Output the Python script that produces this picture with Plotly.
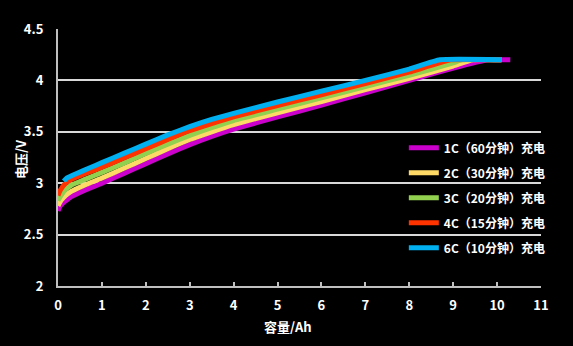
import plotly.graph_objects as go

# Capacity (Ah) and voltage (V) for each charge rate
names = ["1C（60分钟）充电", "2C（30分钟）充电", "3C（20分钟）充电", "4C（15分钟）充电", "6C（10分钟）充电"]
colors = ["#cc00cc", "#ffd966", "#92d050", "#ff3300", "#00b0f0"]

x_1c = [0, 0.05, 0.15, 0.3, 0.6, 1, 1.5, 2, 2.5, 3, 3.5, 4, 5, 6, 7, 8, 9, 9.8, 10.3]
v_1c = [2.73, 2.78, 2.82, 2.87, 2.93, 3.00, 3.095, 3.19, 3.285, 3.375, 3.455, 3.525, 3.645, 3.76, 3.88, 4.00, 4.12, 4.2, 4.2]

x_2c = [0, 0.05, 0.15, 0.3, 0.6, 1, 1.5, 2, 2.5, 3, 3.5, 4, 5, 6, 7, 8, 9, 9.45, 10.1]
v_2c = [2.78, 2.82, 2.87, 2.92, 2.98, 3.05, 3.145, 3.24, 3.335, 3.425, 3.50, 3.57, 3.685, 3.795, 3.91, 4.02, 4.14, 4.2, 4.2]

x_3c = [0, 0.05, 0.15, 0.3, 0.6, 1, 1.5, 2, 2.5, 3, 3.5, 4, 5, 6, 7, 8, 9, 9.2, 10.1]
v_3c = [2.83, 2.87, 2.93, 2.98, 3.035, 3.105, 3.195, 3.29, 3.38, 3.465, 3.54, 3.61, 3.72, 3.83, 3.94, 4.05, 4.17, 4.2, 4.2]

x_4c = [0, 0.05, 0.15, 0.3, 0.6, 1, 1.5, 2, 2.5, 3, 3.5, 4, 5, 6, 7, 8, 8.95, 10.1]
v_4c = [2.88, 2.93, 2.99, 3.035, 3.09, 3.155, 3.245, 3.335, 3.425, 3.51, 3.58, 3.645, 3.755, 3.86, 3.97, 4.08, 4.2, 4.2]

x_6c = [0.13, 0.2, 0.4, 0.7, 1, 1.5, 2, 2.5, 3, 3.5, 4, 5, 6, 7, 8, 8.7, 10.1]
v_6c = [3.02, 3.05, 3.09, 3.145, 3.20, 3.29, 3.38, 3.47, 3.55, 3.62, 3.68, 3.79, 3.895, 4.00, 4.11, 4.2, 4.2]

xs = [x_1c, x_2c, x_3c, x_4c, x_6c]
vs = [v_1c, v_2c, v_3c, v_4c, v_6c]

x_ticks = list(range(0, 12))
y_ticks = [2, 2.5, 3, 3.5, 4, 4.5]
y_tick_text = ["2", "2.5", "3", "3.5", "4", "4.5"]

FONT = "Noto Sans CJK SC"

ML, MR, MT, MB = 58, 32, 29, 60
W, H = 573, 346
pw = W - ML - MR
ph = H - MT - MB


def px_to_paper(xp, yp):
    return (xp - ML) / pw, (H - MB - yp) / ph


fig = go.Figure()
for i in range(5):
    fig.add_trace(go.Scatter(
        x=xs[i], y=vs[i], mode="lines", name=names[i],
        line=dict(color=colors[i], width=5, shape="spline", smoothing=0.4),
        legendgroup=str(i),
    ))

ytx, yty = px_to_paper(20, 159)
xtx, xty = px_to_paper(288, 327)

fig.update_layout(
    width=W, height=H,
    paper_bgcolor="black", plot_bgcolor="black",
    margin=dict(l=ML, r=MR, t=MT, b=MB),
    font=dict(family=FONT, color="white", size=12),
    showlegend=True,
    legend=dict(
        x=0.716, y=0.594, xanchor="left", yanchor="top",
        bgcolor="rgba(0,0,0,0)",
        font=dict(family=FONT, size=12, color="white", weight="bold"),
        tracegroupgap=6, itemwidth=30,
    ),
    xaxis=dict(
        range=[0, 11], tickvals=x_ticks, ticktext=[str(t) for t in x_ticks],
        showgrid=False, zeroline=False,
        showline=True, linecolor="#bfbfbf", linewidth=2,
        ticks="inside", ticklen=4, tickwidth=1.5, tickcolor="#bfbfbf",
        ticklabelstandoff=6,
        tickfont=dict(family=FONT, size=13, color="white", weight="bold"),
        fixedrange=True,
    ),
    yaxis=dict(
        range=[2, 4.5], tickvals=y_ticks, ticktext=y_tick_text,
        showgrid=True, gridcolor="#d9d9d9", gridwidth=2, zeroline=False,
        showline=True, linecolor="#bfbfbf", linewidth=2,
        ticks="", ticklabelstandoff=10,
        tickfont=dict(family=FONT, size=13, color="white", weight="bold"),
        fixedrange=True,
    ),
    annotations=[
        dict(text="电压/V", x=ytx, y=yty, xref="paper", yref="paper", showarrow=False,
             xanchor="center", yanchor="middle", textangle=-90,
             font=dict(family=FONT, size=13, color="white", weight="bold")),
        dict(text="容量/Ah", x=xtx, y=xty, xref="paper", yref="paper", showarrow=False,
             xanchor="center", yanchor="middle",
             font=dict(family=FONT, size=13, color="white", weight="bold")),
    ],
)

fig.write_html("out.html")
